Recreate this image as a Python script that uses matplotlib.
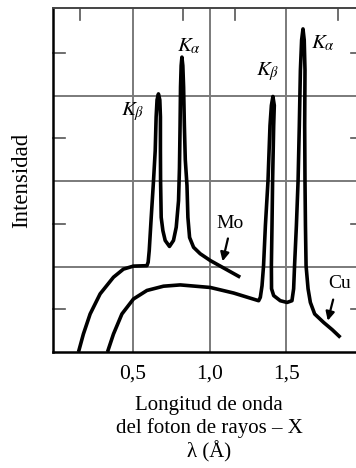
import matplotlib
matplotlib.use('Agg')
import matplotlib.pyplot as plt

plt.rcParams['font.family'] = ['Liberation Serif', 'DejaVu Serif']
plt.rcParams['mathtext.fontset'] = 'stix'

# Mo spectrum (wavelength in Angstrom, relative intensity)
mo_x = [0.146, 0.178, 0.222, 0.287, 0.374, 0.439, 0.504, 0.592, 0.600,
        0.607, 0.620, 0.635, 0.646, 0.652, 0.658, 0.667, 0.676, 0.680,
        0.680, 0.681, 0.685, 0.696, 0.711, 0.739, 0.765, 0.783, 0.798,
        0.804, 0.808, 0.811, 0.815, 0.820, 0.826, 0.831, 0.836, 0.842,
        0.853, 0.859, 0.870, 0.896, 0.939, 1.005, 1.100, 1.200]
mo_y = [0.0, 0.42, 0.89, 1.36, 1.75, 1.94, 2.01, 2.02, 2.10,
        2.37, 3.15, 4.01, 4.71, 5.50, 5.90, 6.04, 5.90, 5.50,
        4.71, 4.00, 3.15, 2.84, 2.61, 2.47, 2.61, 2.92, 3.54,
        4.30, 5.30, 6.20, 6.70, 6.90, 6.70, 6.20, 5.30, 4.50,
        3.90, 3.15, 2.68, 2.45, 2.30, 2.14, 1.95, 1.75]

# Cu spectrum
cu_x = [0.335, 0.374, 0.429, 0.504, 0.592, 0.700, 0.809, 1.005, 1.157,
        1.320, 1.331, 1.342, 1.352, 1.364, 1.381, 1.394, 1.403, 1.413,
        1.422, 1.418, 1.411, 1.407, 1.403, 1.404, 1.418, 1.461, 1.505,
        1.537, 1.548, 1.554, 1.566, 1.577, 1.585, 1.592, 1.600, 1.609,
        1.617, 1.622, 1.620, 1.622, 1.625, 1.629, 1.642, 1.657, 1.685,
        1.744, 1.800, 1.853]
cu_y = [0.0, 0.42, 0.89, 1.24, 1.44, 1.54, 1.57, 1.51, 1.38,
        1.20, 1.28, 1.55, 2.02, 2.96, 4.01, 5.30, 5.77, 5.98,
        5.77, 5.30, 4.01, 2.96, 2.02, 1.48, 1.32, 1.20, 1.16,
        1.20, 1.48, 2.02, 2.96, 4.01, 5.30, 6.59, 7.30, 7.56,
        7.30, 6.59, 5.30, 4.01, 2.96, 2.02, 1.48, 1.16, 0.89,
        0.69, 0.52, 0.34]

x_ticks = [0.5, 1.0, 1.5]
x_ticklabels = ['0,5', '1,0', '1,5']
y_grid = [2, 4, 6]
y_minor = [1, 3, 5, 7]
top_ticks = [0.157, 0.826, 1.167, 1.84]

peak_labels = [
    (0.50, 5.63, r'$K_\beta$'),
    (0.868, 7.15, r'$K_\alpha$'),
    (1.38, 6.56, r'$K_\beta$'),
    (1.742, 7.22, r'$K_\alpha$'),
]

fig = plt.figure(figsize=(3.56, 4.68), dpi=100)
ax = fig.add_axes([53 / 356, 116 / 468, 310 / 356, 344 / 468])
ax.set_xlim(-0.02, 2.0)
ax.set_ylim(0, 8.05)

# grid
for g in x_ticks:
    ax.axvline(g, color='#7a7a7a', lw=1.4, zorder=1)
for g in y_grid:
    ax.axhline(g, color='#7a7a7a', lw=1.4, zorder=1)

# small inward ticks on left / right / top
for yv in y_minor:
    ax.plot([-0.02, 0.06], [yv, yv], color='#555555', lw=1.2, clip_on=False, zorder=1)
    ax.plot([1.92, 2.0], [yv, yv], color='#555555', lw=1.2, clip_on=False, zorder=1)
for xv in top_ticks:
    ax.plot([xv, xv], [8.05, 7.77], color='#555555', lw=1.2, zorder=1)

ax.plot(mo_x, mo_y, color='black', lw=2.6, solid_capstyle='butt',
        solid_joinstyle='round', zorder=3)
ax.plot(cu_x, cu_y, color='black', lw=2.6, solid_capstyle='butt',
        solid_joinstyle='round', zorder=3)

for x, y, s in peak_labels:
    ax.text(x, y, s, fontsize=15, ha='center', va='center')

ax.text(1.135, 3.0, 'Mo', fontsize=14, ha='center', va='center')
ax.text(1.85, 1.61, 'Cu', fontsize=14, ha='center', va='center')
ax.annotate('', xy=(1.081, 2.06), xytext=(1.124, 2.72),
            arrowprops=dict(arrowstyle='-|>', color='black', lw=1.6,
                            mutation_scale=13))
ax.annotate('', xy=(1.766, 0.67), xytext=(1.81, 1.29),
            arrowprops=dict(arrowstyle='-|>', color='black', lw=1.6,
                            mutation_scale=13))

ax.set_xticks(x_ticks)
ax.set_xticklabels(x_ticklabels, fontsize=15.5)
ax.set_yticks([])
ax.tick_params(axis='x', length=0, pad=9)

for side in ['left', 'bottom']:
    ax.spines[side].set_linewidth(1.8)
    ax.spines[side].set_color('black')
ax.spines['top'].set_linewidth(1.4)
ax.spines['top'].set_color('#444444')
ax.spines['right'].set_visible(False)

fig.text(22 / 356, 288 / 468, 'Intensidad', rotation=90, fontsize=16.5,
         ha='center', va='center')
fig.text(209 / 356, 39 / 468, 'Longitud de onda\ndel foton de rayos \u2013 X\n\u03bb (\u00c5)',
         fontsize=15, ha='center', va='center', linespacing=1.2)

fig.savefig('out.png', dpi=100)
